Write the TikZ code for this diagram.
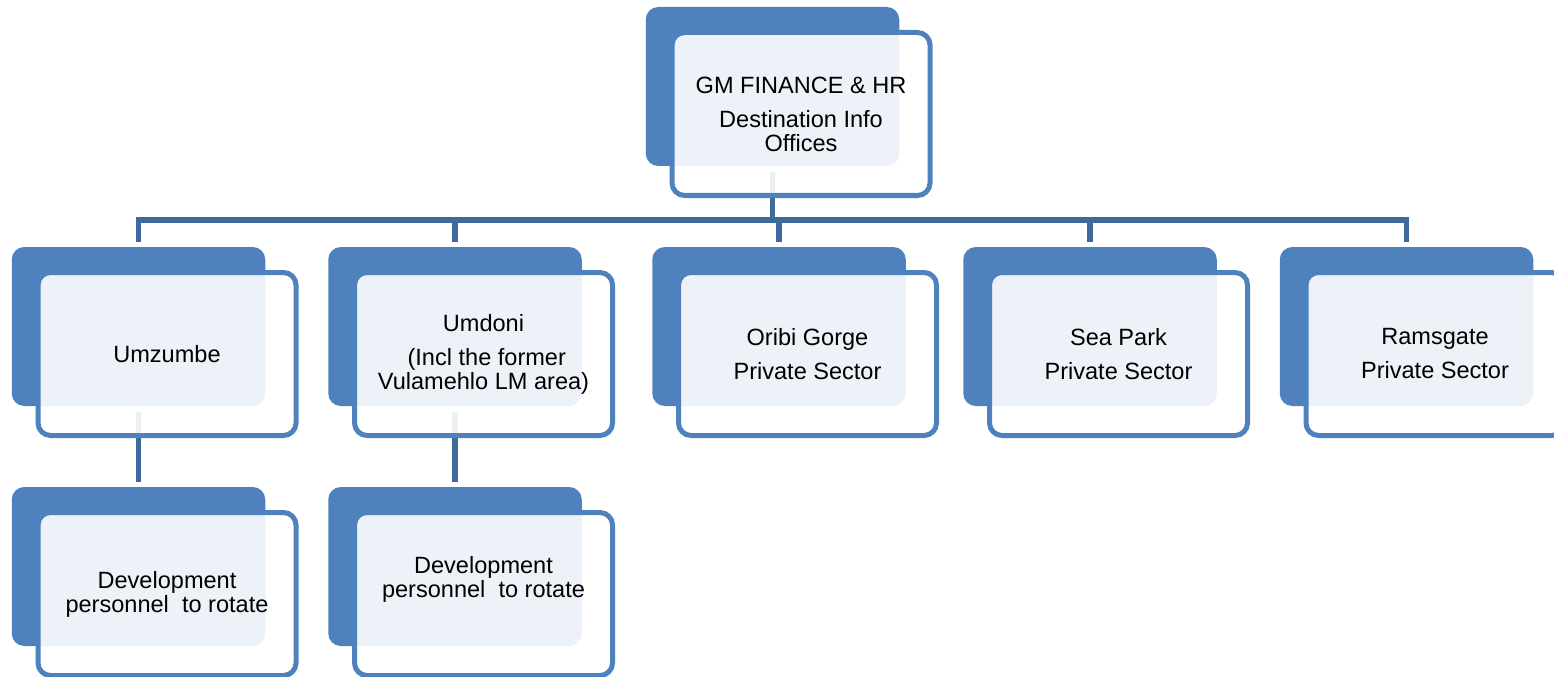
\documentclass[tikz,border=0pt]{standalone}
\usepackage{fontspec}
\usepackage{xcolor}
\usepackage{tikz}
\usetikzlibrary{calc}

\newfontfamily\arialfam{Liberation Sans}
\newcommand{\boxfont}{\arialfam\fontsize{13.4}{13.66}\selectfont}

\definecolor{accBlue}{HTML}{4F81BD}
\definecolor{linkBlue}{HTML}{3F6A9C}

\tikzset{
  backbox/.style={rectangle, rounded corners=0.25cm, fill=accBlue,
    minimum width=5.07cm, minimum height=3.18cm, inner sep=0pt},
  frontbox/.style={rectangle, rounded corners=0.25cm, draw=accBlue, line width=0.1cm,
    fill=white, fill opacity=0.9, text opacity=1, xshift=0.57cm, yshift=-0.55cm,
    minimum width=5.16cm, minimum height=3.26cm, inner sep=0pt,
    align=center, font=\boxfont},
  link/.style={draw=linkBlue, line width=0.11cm, shorten <=0.12cm, shorten >=0.1cm}
}

\begin{document}
\begin{tikzpicture}

    \useasboundingbox (0,0) rectangle (31.08,-13.54);

    %coordinates
    \coordinate (bar) at (0,-4.40); % horizontal bar

    %back boxes
    \node[backbox] (gmB) at (15.45,-1.73) {};
    \node[backbox] (umzB) at (2.77,-6.53) {};
    \node[backbox] (umdB) at (9.10,-6.53) {};
    \node[backbox] (oriB) at (15.58,-6.53) {};
    \node[backbox] (seaB) at (21.80,-6.53) {};
    \node[backbox] (ramB) at (28.13,-6.53) {};
    \node[backbox] (devaB) at (2.77,-11.33) {};
    \node[backbox] (devbB) at (9.10,-11.33) {};

    %links
    \foreach \c in {umzB,umdB,oriB,seaB,ramB}
    \draw[link] (gmB.south) -- (gmB.south |- bar) -| (\c.north);
    \draw[link] (umzB.south) -- (devaB.north);
    \draw[link] (umdB.south) -- (devbB.north);

    %front boxes
    \node[frontbox] (gm) at (gmB) {GM FINANCE \& HR\\[0.2cm] Destination Info\\ Offices};
    \node[frontbox] (umz) at (umzB) {Umzumbe};
    \node[frontbox] (umd) at (umdB) {Umdoni\\[0.2cm] \ (Incl the former\\ Vulamehlo LM area)};
    \node[frontbox] (ori) at (oriB) {Oribi Gorge\\[0.2cm] Private Sector};
    \node[frontbox] (sea) at (seaB) {Sea Park\\[0.2cm] Private Sector};
    \node[frontbox] (ram) at (ramB) {Ramsgate\\[0.2cm] Private Sector};
    \node[frontbox] (deva) at (devaB) {Development\\ personnel\ \ to rotate};
    \node[frontbox] (devb) at (devbB) {Development\\ personnel\ \ to rotate\\[0.2cm]\mbox{}};

\end{tikzpicture}
\end{document}
